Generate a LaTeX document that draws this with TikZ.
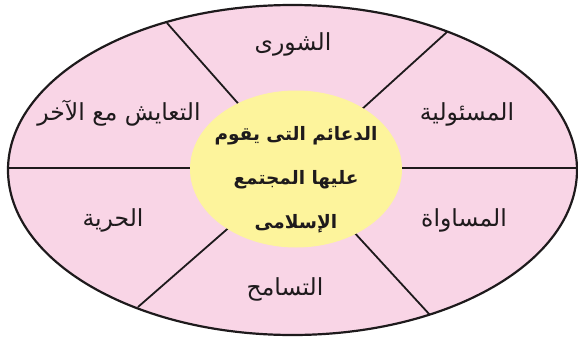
\documentclass[tikz,border=0pt]{standalone}
\usepackage{fontspec}
\usetikzlibrary{shapes.geometric}
\newfontfamily\arabicfont[Script=Arabic]{DejaVu Sans}
\TeXXeTstate=1
\definecolor{sectorpink}{RGB}{249,213,230}
\definecolor{hubyellow}{RGB}{253,244,156}
\definecolor{inkline}{RGB}{30,26,28}
\tikzset{
  sectorlabel/.style={font=\arabicfont\fontsize{23.5}{28}\selectfont, text=inkline, inner sep=0pt},
  hubtext/.style={font=\arabicfont\bfseries\fontsize{18.5}{44}\selectfont, text=inkline, align=center, inner sep=0pt},
  divider/.style={draw=inkline, line width=1.8pt},
}
\begin{document}
\begin{tikzpicture}[x=1pt,y=-1pt]
\useasboundingbox (0,0) rectangle (578,337);
% outer ellipse fill
\fill[sectorpink] (292.5,170) ellipse [x radius=284.5, y radius=165];
% coordinates
\coordinate (c) at (296,169);
\coordinate (ul) at (167,23);
\coordinate (ur) at (447,32);
\coordinate (lr) at (430,315);
\coordinate (ll) at (138,307);
\coordinate (l) at (8,168);
\coordinate (r) at (577,168);
% dividers
\draw[divider] (c) -- (ul);
\draw[divider] (c) -- (ur);
\draw[divider] (c) -- (lr);
\draw[divider] (c) -- (ll);
\draw[divider] (l) -- (r);
% outline
\draw[inkline, line width=2.2pt] (292.5,170) ellipse [x radius=284.5, y radius=165];
% hub
\node[fill=hubyellow, ellipse, minimum width=212pt, minimum height=157pt, inner sep=0pt] (hub) at (c) {};
\node[hubtext] (hubt) at (296,180) {\beginR الدعائم التى يقوم\endR\\\beginR عليها المجتمع\endR\\\beginR الإسلامى\endR};
% labels
\node[sectorlabel] (shura) at (293,44) {\beginR الشورى\endR};
\node[sectorlabel] (masuliya) at (467,114) {\beginR المسئولية\endR};
\node[sectorlabel] (musawat) at (464,220) {\beginR المساواة\endR};
\node[sectorlabel] (tasamuh) at (285,289) {\beginR التسامح\endR};
\node[sectorlabel] (hurriya) at (113,220) {\beginR الحرية\endR};
\node[sectorlabel] (taayush) at (119,113) {\beginR التعايش مع الآخر\endR};
\end{tikzpicture}
\end{document}
